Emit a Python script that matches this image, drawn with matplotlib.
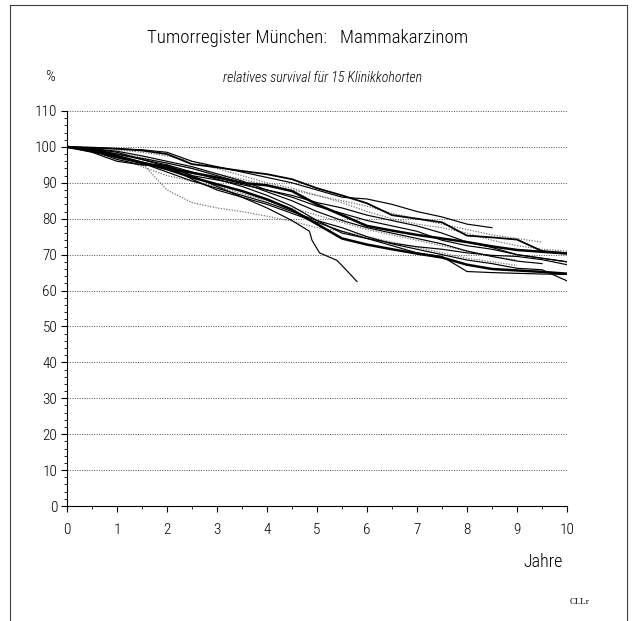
import numpy as np
import matplotlib
matplotlib.use("Agg")
import matplotlib.pyplot as plt
from matplotlib.lines import Line2D
from matplotlib.ticker import MultipleLocator

plt.rcParams['font.family'] = ['Roboto Condensed', 'DejaVu Sans']
plt.rcParams['font.weight'] = 'light'

# --- data: relative survival (%) of 15 clinic cohorts ---
years = [0, 0.5, 1, 1.5, 2, 2.5, 3, 3.5, 4, 4.5, 5,
         5.5, 6, 6.5, 7, 7.5, 8, 8.5, 9, 9.5, 10]

c01 = [100, 99.8, 99.5, 99.0, 98.0, 95.2, 94.3, 93.3, 92.4, 91.0, 88.5,
       86.5, 84.3, 81.0, 80.0, 79.0, 75.3, 74.8, 74.2, 71.0, 70.4]
c02 = [100, 98.8, 97.2, 95.6, 94.2, 92.8, 91.5, 90.0, 89.3, 87.7, 84.0,
       81.0, 78.0, 76.7, 75.5, 74.5, 73.5, 72.3, 71.3, 70.8, 70.3]
c03 = [100, 99.3, 97.5, 95.6, 93.8, 91.5, 89.6, 87.7, 85.4, 82.5, 78.5,
       74.5, 72.8, 71.5, 70.3, 69.2, 67.2, 66.0, 65.6, 65.2, 64.7]
c04 = [100, 99.5, 98.5, 96.5, 95.0, 93.0, 91.0, 89.0, 86.5, 83.5, 79.5,
       76.0, 74.5, 73.2, 72.2, 71.5, 70.5, 69.8, 69.5, 68.6, 67.2]
c06 = [100, 99.0, 96.5, 95.0, 94.8, 91.0, 88.0, 86.0, 84.0, 81.5, 79.0,
       76.5, 74.5, 72.5, 70.5, 69.5, 65.3, 65.0, 64.8, 64.6, 64.5]
c07 = [100, 98.5, 96.0, 95.0, 95.0, 92.0, 90.8, 89.5, 88.0, 86.5, 84.5,
       83.0, 81.0, 79.5, 78.0, 76.0, 73.5, 72.0, 70.0, 69.0, 68.0]
c08 = [100, 99.0, 97.0, 95.5, 93.0, 90.5, 88.5, 86.5, 84.5, 82.0, 79.5,
       77.5, 75.0, 73.0, 71.5, 70.0, 68.5, 67.5, 66.2, 65.8, 62.7]
c09 = [100, 99.0, 97.5, 95.5, 88.0, 84.5, 83.0, 82.0, 80.7, 79.3, 77.5,
       76.5, 75.0, 73.5, 72.0, 70.5, 69.0, 68.0, 67.0]
c10 = [100, 99.5, 98.8, 97.5, 96.0, 94.5, 92.5, 90.5, 88.0, 86.0, 83.5,
       81.5, 79.5, 78.0, 76.5, 74.0, 72.5, 71.5, 70.0, 69.0, 68.0]
c11 = [100, 99.7, 99.2, 98.5, 97.5, 96.0, 94.0, 92.0, 90.0, 88.5, 86.5,
       85.0, 83.5, 81.5, 80.0, 78.5, 77.0, 75.5, 74.5, 73.5]
c12 = [100, 99.5, 98.5, 97.0, 95.5, 94.0, 92.5, 91.0, 89.5, 88.0, 86.5,
       84.5, 82.0, 80.0, 78.5, 77.5, 76.0, 74.0, 72.5, 71.5, 71.0]
c13 = [100, 99.8, 99.5, 99.2, 98.5, 96.0, 94.5, 93.0, 91.5, 90.0, 88.0,
       86.0, 85.5, 84.0, 82.0, 80.5, 78.5, 77.5]
c14 = [100, 99.0, 97.0, 94.5, 92.0, 90.5, 89.0, 87.0, 85.0, 83.0, 81.0,
       79.0, 77.0, 75.5, 74.0, 72.5, 71.0, 69.5, 68.5]
c15 = [100, 99.2, 98.0, 96.8, 95.5, 94.0, 92.0, 90.0, 87.5, 85.0, 82.0,
       79.5, 77.5, 76.0, 74.5, 73.0, 71.0, 69.5, 68.2, 67.5]

# cohort that drops steeply before year 6
years_short = [0, 0.5, 1, 1.5, 2, 2.5, 3, 3.5, 4, 4.5, 4.85, 4.9, 5.05, 5.4, 5.6, 5.8]
c05 = [100, 99.5, 98.0, 96.5, 94.5, 92.0, 89.0, 86.0, 83.0, 79.5, 76.5,
       74.0, 70.5, 68.4, 65.5, 62.5]

thick = dict(color='black', lw=1.8, solid_capstyle='butt')
thin = dict(color='black', lw=0.85)
dotted = dict(color='0.4', lw=0.85, linestyle=(0, (1, 1.3)))

fig = plt.figure(figsize=(6.33, 6.21), dpi=100)
ax = fig.add_axes([67 / 633, 1 - 506 / 621, 500 / 633, 395 / 621])

for vals, style in [(c11, dotted), (c12, dotted), (c09, dotted), (c14, dotted),
                    (c13, thin), (c10, thin), (c15, thin), (c04, thin),
                    (c06, thin), (c07, thin), (c08, thin), (c01, dict(color='black', lw=1.3)),
                    (c02, thick), (c03, thick)]:
    ax.plot(years[:len(vals)], vals, **style)
ax.plot(years_short, c05, **thin)

ax.set_xlim(0, 10)
ax.set_ylim(0, 110)
ax.xaxis.set_major_locator(MultipleLocator(1))
ax.xaxis.set_minor_locator(MultipleLocator(0.5))
ax.yaxis.set_major_locator(MultipleLocator(10))
ax.yaxis.set_minor_locator(MultipleLocator(2))
ax.tick_params(axis='both', which='major', direction='out', length=4, width=0.8,
               labelsize=11, pad=8)
ax.tick_params(axis='both', which='minor', direction='out', length=2, width=0.6)
ax.tick_params(axis='y', pad=3)
for s in ['top', 'right']:
    ax.spines[s].set_visible(False)
for s in ['left', 'bottom']:
    ax.spines[s].set_linewidth(0.8)

for v in range(10, 111, 10):
    ax.axhline(v, color='0.3', lw=0.7, linestyle=(0, (1, 1.5)), zorder=0)

# texts
fig.text(308 / 633, 1 - 38 / 621, 'Tumorregister München:   Mammakarzinom',
         ha='center', va='center', fontsize=13.6)
fig.text(323 / 633, 1 - 78 / 621, 'relatives survival für 15 Klinikkohorten',
         ha='center', va='center', fontsize=10, style='italic')
fig.text(50 / 633, 1 - 77 / 621, '%', ha='center', va='center', fontsize=11)
fig.text(543 / 633, 1 - 562 / 621, 'Jahre', ha='center', va='center', fontsize=13)
fig.text(580 / 633, 1 - 602 / 621, 'CI.Lr', ha='center', va='center', fontsize=6.5,
         family='Liberation Serif')

# page border of the scan
for xs, ys in [((10, 10), (5, 621)), ((10, 627), (5, 5)), ((627, 627), (5, 621))]:
    fig.add_artist(Line2D([x / 633 for x in xs], [1 - y / 621 for y in ys],
                          color='0.25', lw=0.8, transform=fig.transFigure))

fig.savefig('out.png', dpi=100, facecolor='white')
